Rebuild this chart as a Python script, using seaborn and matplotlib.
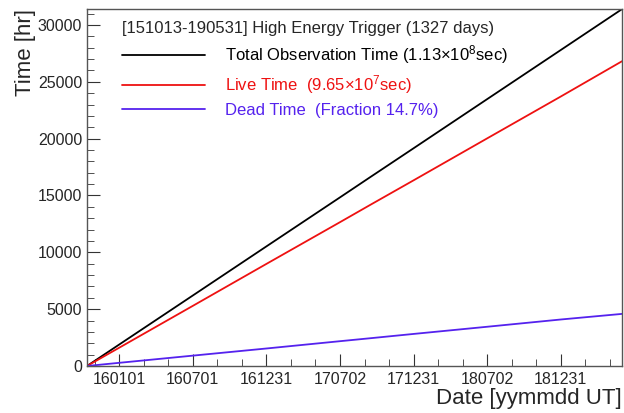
import matplotlib
matplotlib.use("Agg")
import matplotlib.pyplot as plt
from matplotlib.ticker import MultipleLocator, FixedLocator
import pandas as pd
import seaborn as sns

# days since 2015-10-13 and cumulative time in hours
days = [0, 80, 262, 445, 627, 702, 810, 992, 1175, 1327]
total_hr = [0, 1890, 6190, 10520, 14820, 16600, 19150, 23460, 27790, 31389]
live_hr = [0, 1610, 5280, 8980, 12640, 14160, 16330, 20010, 23700, 26806]
dead_hr = [0, 280, 910, 1540, 2180, 2440, 2820, 3450, 4090, 4583]

tick_days = [80, 262, 445, 628, 810, 993, 1175]
tick_labels = ["160101", "160701", "161231", "170702", "171231", "180702", "181231"]

legend_title = "[151013-190531] High Energy Trigger (1327 days)"
series_names = ["Total Observation Time (1.13$\\times$10$^{8}$sec)",
                "Live Time  (9.65$\\times$10$^{7}$sec)",
                "Dead Time  (Fraction 14.7%)"]
colors = ["black", "#ee1111", "#5522ee"]

df = pd.concat([
    pd.DataFrame({"day": days, "hr": total_hr, "series": series_names[0]}),
    pd.DataFrame({"day": days, "hr": live_hr, "series": series_names[1]}),
    pd.DataFrame({"day": days, "hr": dead_hr, "series": series_names[2]}),
])

sns.set_style("ticks")
plt.rcParams["font.family"] = ["Liberation Sans", "DejaVu Sans"]
plt.rcParams["mathtext.default"] = "regular"

fig = plt.figure(figsize=(6.24, 4.13), dpi=100)
ax = fig.add_axes([0.1394, 0.1138, 0.8574, 0.8644])

sns.lineplot(data=df, x="day", y="hr", hue="series", palette=colors,
             linewidth=1.3, ax=ax)

ax.set_xlim(0, 1327)
ax.set_ylim(0, 31400)

ax.xaxis.set_major_locator(FixedLocator(tick_days))
ax.set_xticklabels(tick_labels)
minor = []
for i in range(-1, len(tick_days)):
    start = tick_days[0] + i * 182.5
    minor += [start + 182.5 / 3, start + 2 * 182.5 / 3]
ax.xaxis.set_minor_locator(FixedLocator([m for m in minor if 0 < m < 1327]))
ax.yaxis.set_major_locator(MultipleLocator(5000))
ax.yaxis.set_minor_locator(MultipleLocator(1000))

ax.tick_params(which="both", direction="in", labelsize=11.5, color="#333333")
ax.tick_params(which="major", length=9)
ax.tick_params(which="minor", length=5)
ax.tick_params(axis="x", pad=4)
for s in ax.spines.values():
    s.set_color("#555555")
    s.set_linewidth(1)

ax.set_xlabel("Date [yymmdd UT]", fontsize=16, loc="right", labelpad=1)
ax.set_ylabel("Time [hr]", fontsize=16, loc="top", labelpad=1)

leg = ax.legend(title=legend_title, loc="upper left", frameon=False,
                fontsize=12, title_fontsize=12, handlelength=5.0,
                handletextpad=1.2, labelspacing=0.42, alignment="left",
                borderpad=0.3, bbox_to_anchor=(0.04, 1.003))
for txt, c in zip(leg.get_texts(), colors):
    txt.set_color(c)

fig.savefig("out.png", dpi=100)
